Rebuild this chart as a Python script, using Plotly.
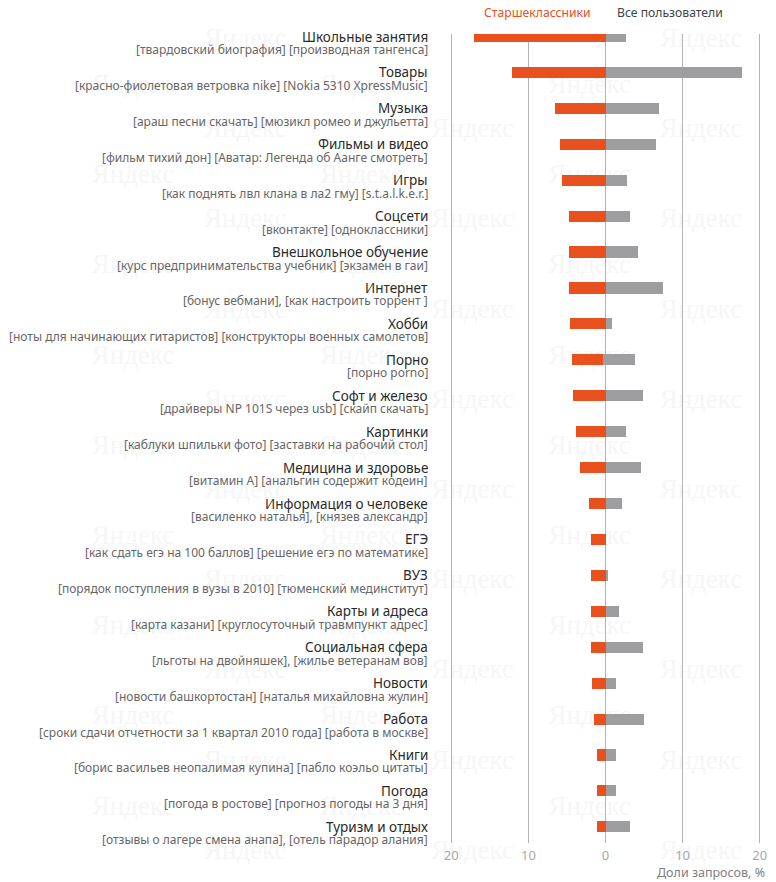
import plotly.graph_objects as go

categories = ["Школьные занятия", "Товары", "Музыка", "Фильмы и видео", "Игры", "Соцсети",
              "Внешкольное обучение", "Интернет", "Хобби", "Порно", "Софт и железо", "Картинки",
              "Медицина и здоровье", "Информация о человеке", "ЕГЭ", "ВУЗ", "Карты и адреса",
              "Социальная сфера", "Новости", "Работа", "Книги", "Погода", "Туризм и отдых"]
queries = ["[твардовский биография] [производная тангенса]",
           "[красно-фиолетовая ветровка nike] [Nokia 5310 XpressMusic]",
           "[араш песни скачать] [мюзикл ромео и джульетта]",
           "[фильм тихий дон] [Аватар: Легенда об Аанге смотреть]",
           "[как поднять лвл клана в ла2 гму] [s.t.a.l.k.e.r.]",
           "[вконтакте] [одноклассники]",
           "[курс предпринимательства учебник] [экзамен в гаи]",
           "[бонус вебмани], [как настроить торрент ]",
           "[ноты для начинающих гитаристов] [конструкторы военных самолетов]",
           "[порно porno]",
           "[драйверы NP 101S через usb] [скайп скачать]",
           "[каблуки шпильки фото] [заставки на рабочий стол]",
           "[витамин А] [анальгин содержит кодеин]",
           "[василенко наталья], [князев александр]",
           "[как сдать егэ на 100 баллов] [решение егэ по математике]",
           "[порядок поступления в вузы в 2010] [тюменский мединститут]",
           "[карта казани] [круглосуточный травмпункт адрес]",
           "[льготы на двойняшек], [жилье ветеранам вов]",
           "[новости башкортостан] [наталья михайловна жулин]",
           "[сроки сдачи отчетности за 1 квартал 2010 года] [работа в москве]",
           "[борис васильев неопалимая купина] [пабло коэльо цитаты]",
           "[погода в ростове] [прогноз погоды на 3 дня]",
           "[отзывы о лагере смена анапа], [отель парадор алания]"]
teens = [17.0, 12.1, 6.5, 5.9, 5.7, 4.7, 4.7, 4.7, 4.6, 4.3, 4.2, 3.8, 3.3, 2.1, 1.9, 1.9,
         1.9, 1.9, 1.8, 1.5, 1.1, 1.1, 1.1]
all_users = [2.6, 17.7, 7.0, 6.6, 2.8, 3.2, 4.2, 7.4, 0.8, 4.2, 4.9, 2.6, 4.6, 2.2, 0.0, 0.3,
             1.7, 4.9, 1.4, 5.0, 1.4, 1.4, 3.2]
all_base = [0, 0, 0, 0, 0, 0, 0, 0, 0, -0.34, 0, 0, 0, 0, 0, 0, 0, 0, 0, 0, 0, 0, 0]
tick_vals = [-20, -10, 0, 10, 20]
tick_text = ["20", "10", "0", "10", "20"]
series_names = ["Старшеклассники", "Все пользователи"]
axis_title = "Доли запросов, %"

ORANGE = "#E8501E"
GRAY = "#9E9EA0"
FONT = "Noto Sans"

idx = list(range(len(categories)))

fig = go.Figure()
fig.add_trace(go.Bar(y=idx, x=[-v for v in teens], orientation="h", marker_color=ORANGE,
                     marker_line_width=0, width=0.31, name=series_names[0], showlegend=False))
fig.add_trace(go.Bar(y=idx, x=all_users, base=all_base, orientation="h", marker_color=GRAY,
                     marker_line_width=0, width=0.31, name=series_names[1], showlegend=False))

ann = []
for i, (c, q) in enumerate(zip(categories, queries)):
    ann.append(dict(xref="paper", yref="y", x=0, y=i, xshift=-19, xanchor="right",
                    yanchor="middle", text=c, showarrow=False,
                    font=dict(family=FONT, size=13.5, color="#2a2a2a")))
    ann.append(dict(xref="paper", yref="y", x=0, y=i, xshift=-19, yshift=-13,
                    xanchor="right", yanchor="middle", text=q, showarrow=False,
                    font=dict(family=FONT, size=12, color="#666666")))

ann.append(dict(xref="paper", yref="paper", x=1, y=0, xshift=5, yshift=-29, xanchor="right",
                yanchor="middle", text=axis_title, showarrow=False,
                font=dict(family=FONT, size=12.5, color="#808080")))
ann.append(dict(xref="x", yref="paper", x=0, y=1, xshift=-13, yshift=22, xanchor="right",
                yanchor="middle", text=series_names[0], showarrow=False,
                font=dict(family=FONT, size=12.2, color=ORANGE)))
ann.append(dict(xref="x", yref="paper", x=0, y=1, xshift=9, yshift=22, xanchor="left",
                yanchor="middle", text=series_names[1], showarrow=False,
                font=dict(family=FONT, size=12.2, color="#444444")))

W, H = 776, 882
ml, mr, mt, mb = 449, 9, 34, 39
pw, ph = W - ml - mr, H - mt - mb

# faint "Яндекс" watermarks behind everything (page pixel positions)
spots = []
main_x = [242, 473, 705]
shift_x = [128, 360, 592]
for k in range(10):
    y = 35 + 90.2 * k
    for x in main_x:
        if k == 0 and x == 473:
            continue
        spots.append((x, y))
for k in range(9):
    y = 81 + 90.2 * k
    for x in shift_x:
        spots.append((x, y))
wm_shapes = []
for (px, py) in spots:
    xp = (px - ml) / pw
    yp = 1 - (py - mt) / ph
    wm_shapes.append(dict(type="rect", xref="paper", yref="paper", layer="below",
                          x0=xp - 0.12, x1=xp + 0.12, y0=yp - 0.015, y1=yp + 0.015,
                          line=dict(width=0), fillcolor="rgba(0,0,0,0)",
                          label=dict(text="Яндекс", textposition="middle center",
                                     font=dict(family="Liberation Sans Narrow", size=27,
                                               color="#F6F6F6"))))

fig.update_layout(
    width=W, height=H,
    margin=dict(l=ml, r=mr, t=mt, b=mb),
    paper_bgcolor="white", plot_bgcolor="rgba(0,0,0,0)",
    barmode="overlay", bargap=0,
    showlegend=False,
    annotations=ann,
    shapes=wm_shapes,
    font=dict(family=FONT),
    xaxis=dict(range=[-20.3, 20.3], tickvals=tick_vals, ticktext=tick_text,
               showgrid=True, gridcolor="#B4B4B4", gridwidth=1, zeroline=False,
               showline=False, ticks="", ticklabelstandoff=3,
               tickfont=dict(family=FONT, size=13, color="#A8A8A8"),
               fixedrange=True),
    yaxis=dict(range=[22.45, -0.07], showticklabels=False, showgrid=False, zeroline=False,
               showline=False, ticks="", fixedrange=True),
)

fig.write_html("out.html", config={"displayModeBar": False},
               post_script="document.body.style.margin='0';document.body.style.overflow='hidden';")
